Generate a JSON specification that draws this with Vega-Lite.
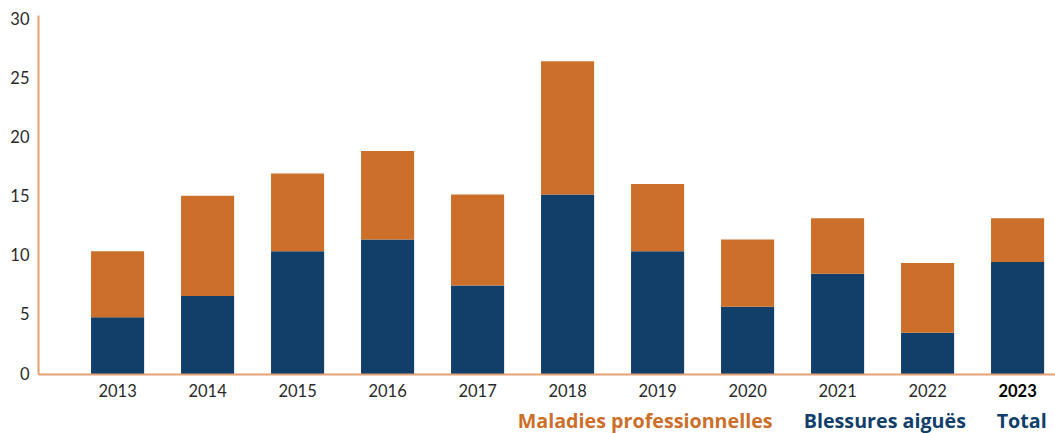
{
  "$schema": "https://vega.github.io/schema/vega-lite/v6.json",
  "width": 1017,
  "height": 359,
  "autosize": {"type": "none"},
  "padding": {"left": 38, "top": 15, "right": 0, "bottom": 59},
  "background": "white",
  "config": {"view": {"stroke": null}, "font": "Lato"},
  "data": {
    "values": [
      {"annee": "2013", "serie": "Blessures aiguës", "valeur": 4.8},
      {"annee": "2013", "serie": "Maladies professionnelles", "valeur": 5.6},
      {"annee": "2014", "serie": "Blessures aiguës", "valeur": 6.6},
      {"annee": "2014", "serie": "Maladies professionnelles", "valeur": 8.5},
      {"annee": "2015", "serie": "Blessures aiguës", "valeur": 10.4},
      {"annee": "2015", "serie": "Maladies professionnelles", "valeur": 6.6},
      {"annee": "2016", "serie": "Blessures aiguës", "valeur": 11.4},
      {"annee": "2016", "serie": "Maladies professionnelles", "valeur": 7.5},
      {"annee": "2017", "serie": "Blessures aiguës", "valeur": 7.5},
      {"annee": "2017", "serie": "Maladies professionnelles", "valeur": 7.7},
      {"annee": "2018", "serie": "Blessures aiguës", "valeur": 15.2},
      {"annee": "2018", "serie": "Maladies professionnelles", "valeur": 11.3},
      {"annee": "2019", "serie": "Blessures aiguës", "valeur": 10.4},
      {"annee": "2019", "serie": "Maladies professionnelles", "valeur": 5.7},
      {"annee": "2020", "serie": "Blessures aiguës", "valeur": 5.7},
      {"annee": "2020", "serie": "Maladies professionnelles", "valeur": 5.7},
      {"annee": "2021", "serie": "Blessures aiguës", "valeur": 8.5},
      {"annee": "2021", "serie": "Maladies professionnelles", "valeur": 4.7},
      {"annee": "2022", "serie": "Blessures aiguës", "valeur": 3.5},
      {"annee": "2022", "serie": "Maladies professionnelles", "valeur": 5.9},
      {"annee": "2023", "serie": "Blessures aiguës", "valeur": 9.5},
      {"annee": "2023", "serie": "Maladies professionnelles", "valeur": 3.7}
    ]
  },
  "mark": {"type": "bar"},
  "encoding": {
    "x": {
      "field": "annee",
      "type": "nominal",
      "sort": null,
      "scale": {"paddingInner": 0.41, "paddingOuter": 0.355, "align": 0.83},
      "axis": {
        "title": null,
        "labelAngle": 0,
        "ticks": false,
        "labelPadding": 9,
        "labelFontSize": 16.5,
        "labelColor": {"condition": {"test": "datum.value == '2023'", "value": "#000000"}, "value": "#2a2a2a"},
        "labelFontWeight": {"condition": {"test": "datum.value == '2023'", "value": "bold"}, "value": "normal"},
        "domainColor": "#E4A075",
        "domainWidth": 2,
        "zindex": 1
      }
    },
    "y": {
      "field": "valeur",
      "type": "quantitative",
      "stack": "zero",
      "scale": {"domain": [0, 30.42], "nice": false},
      "axis": {
        "title": null,
        "values": [0, 5, 10, 15, 20, 25, 30],
        "grid": false,
        "ticks": false,
        "labelPadding": 9,
        "labelFontSize": 16.5,
        "labelColor": "#2a2a2a",
        "domainColor": "#E4A075",
        "domainWidth": 2
      }
    },
    "color": {
      "field": "serie",
      "type": "nominal",
      "scale": {
        "domain": ["Maladies professionnelles", "Blessures aiguës", "Total"],
        "range": ["#CB6F2A", "#123F69", "#123F69"]
      },
      "legend": {
        "title": null,
        "orient": "none",
        "direction": "horizontal",
        "legendX": 460,
        "legendY": 397,
        "symbolSize": 0,
        "symbolStrokeWidth": 0,
        "symbolOpacity": 0,
        "labelOffset": 0,
        "labelLimit": 0,
        "columnPadding": 11,
        "labelFont": "Open Sans",
        "labelFontSize": 19.7,
        "labelFontWeight": "bold",
        "values": ["Maladies professionnelles", "Blessures aiguës", "Total"],
        "encode": {
          "labels": {"update": {"fill": {"scale": "color", "field": "value"}}}
        }
      }
    },
    "order": {"field": "serie", "sort": "ascending"}
  }
}
